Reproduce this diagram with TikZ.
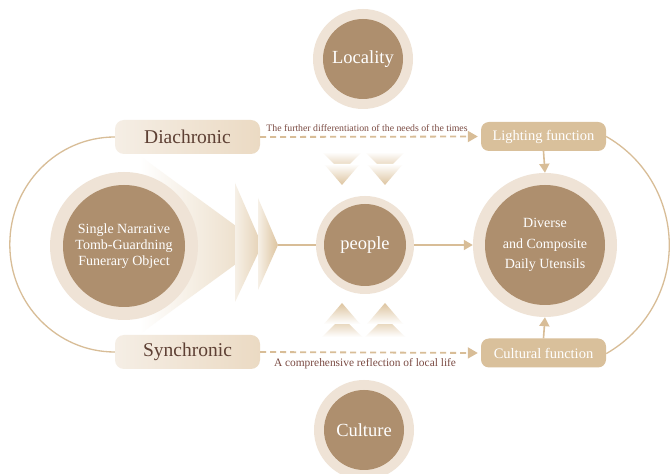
\documentclass[tikz,border=0pt]{standalone}
\usepackage{fontspec}
\setmainfont{Liberation Serif}
\usetikzlibrary{arrows.meta}
\definecolor{ringc}{HTML}{EFE3D6}
\definecolor{innerc}{HTML}{AE8F6E}
\definecolor{boxc}{HTML}{D9C09B}
\definecolor{linec}{HTML}{D8BD97}
\definecolor{darkt}{HTML}{5E4034}
\definecolor{labt}{HTML}{7A4A42}
\definecolor{boxl}{HTML}{F5EEE5}
\definecolor{boxr}{HTML}{EBDAC3}
\definecolor{chev}{HTML}{DDC49F}
\tikzset{
  ring/.style={circle, fill=ringc, inner sep=0pt},
  core/.style={circle, fill=innerc, inner sep=0pt, text=white, align=center},
  bigtxt/.style={font=\fontsize{18.5}{21}\selectfont},
  midtxt/.style={font=\fontsize{14}{20.5}\selectfont},
  fbox/.style={rounded corners=8pt, fill=boxc, text=white, minimum width=125pt, minimum height=29pt, font=\fontsize{14.5}{16}\selectfont, inner sep=0pt},
  tbox/.style={rounded corners=9pt, left color=boxl, right color=boxr, text=darkt, minimum width=145pt, minimum height=34pt, font=\fontsize{19.5}{21}\selectfont, inner sep=0pt},
  conn/.style={draw=linec, line width=1.6pt},
  arr/.style={conn, -{Triangle[length=9pt,width=10pt]}},
  dasharr/.style={draw=linec, line width=1.8pt, dash pattern=on 6pt off 4pt, -{Triangle[length=10pt,width=11pt]}},
  lab/.style={text=labt, inner sep=1pt}
}
\begin{document}
\begin{tikzpicture}[x=1pt,y=1pt]
\useasboundingbox (0,0) rectangle (670,474);
\clip (0,0) rectangle (670,474);
\fill[white] (0,0) rectangle (670,474);

% big wedge and chevrons on the left
\shade[left color=white, right color=chev!65] (140,318) -- (262,229) -- (140,140) -- cycle;
\shade[left color=chev!25, right color=chev!80] (235,291) -- (262,229) -- (235,172) -- cycle;
\shade[left color=chev!25, right color=chev] (258,276) -- (278,229) -- (258,184) -- cycle;
\coordinate (tip) at (278,229);

% down chevrons
\shade[top color=white, bottom color=chev] (322,322) -- (362,322) -- (342,302) -- cycle;
\shade[top color=white, bottom color=chev] (324,310) -- (360,310) -- (342,289) -- cycle;
\shade[top color=white, bottom color=chev] (365,322) -- (405,322) -- (385,302) -- cycle;
\shade[top color=white, bottom color=chev] (367,310) -- (403,310) -- (385,289) -- cycle;
% up chevrons
\shade[bottom color=white, top color=chev] (322,137) -- (362,137) -- (342,157) -- cycle;
\shade[bottom color=white, top color=chev] (324,150) -- (360,150) -- (342,171) -- cycle;
\shade[bottom color=white, top color=chev] (365,137) -- (405,137) -- (385,157) -- cycle;
\shade[bottom color=white, top color=chev] (367,150) -- (403,150) -- (385,171) -- cycle;

% circles
\node[ring, minimum size=148pt] (leftO) at (124,228) {};
\node[core, minimum size=122pt, midtxt] (left) at (leftO) {Single Narrative\\[-4.5pt]Tomb{-}Guardning\\[-4.5pt]Funerary Object};

\node[ring, minimum size=100pt] (locO) at (363,415) {};
\node[core, minimum size=80pt, bigtxt] (loc) at (locO) {Locality};

\node[ring, minimum size=100pt] (culO) at (364,44) {};
\node[core, minimum size=80pt, bigtxt] (cul) at (culO) {Culture};

\node[ring, minimum size=98pt] (peoO) at (365,229) {};
\node[core, minimum size=82pt, bigtxt] (peo) at (peoO) {people};

\node[ring, minimum size=144pt] (rightO) at (545,229) {};
\node[core, minimum size=120pt, midtxt] (right) at (rightO) {Diverse\\and Composite\\Daily Utensils};

% boxes
\node[tbox] (dia) at (187.5,337) {Diachronic};
\node[tbox] (syn) at (187.5,122) {Synchronic};
\node[fbox] (light) at (543.5,337.5) {Lighting function};
\node[fbox] (cult) at (543.5,121) {Cultural function};

% connectors
\draw[dasharr, shorten >=3pt] (dia.east) -- (light.west);
\draw[dasharr, shorten >=3pt] (syn.east) -- (cult.west);
\node[lab, font=\fontsize{9.8}{11}\selectfont, anchor=south] (l1) at (367,341) {The further differentiation of the needs of the times};
\node[lab, font=\fontsize{11.4}{13}\selectfont, anchor=north] (l2) at (365,117) {A comprehensive reflection of local life};

\draw[conn, line width=1.4pt] (tip) -- (peoO.west);
\draw[arr] (peoO.east) -- (rightO.west);
\draw[arr] (light.south) -- (rightO.north);
\draw[arr] (cult.north) -- (rightO.south);

\draw[conn, line width=1.3pt] (dia.west) arc[start angle=90, end angle=270, x radius=105, y radius=107.5];
\draw[conn, line width=1.3pt] (light.east) arc[start angle=60.3, end angle=-60.3, radius=125];
\end{tikzpicture}
\end{document}
